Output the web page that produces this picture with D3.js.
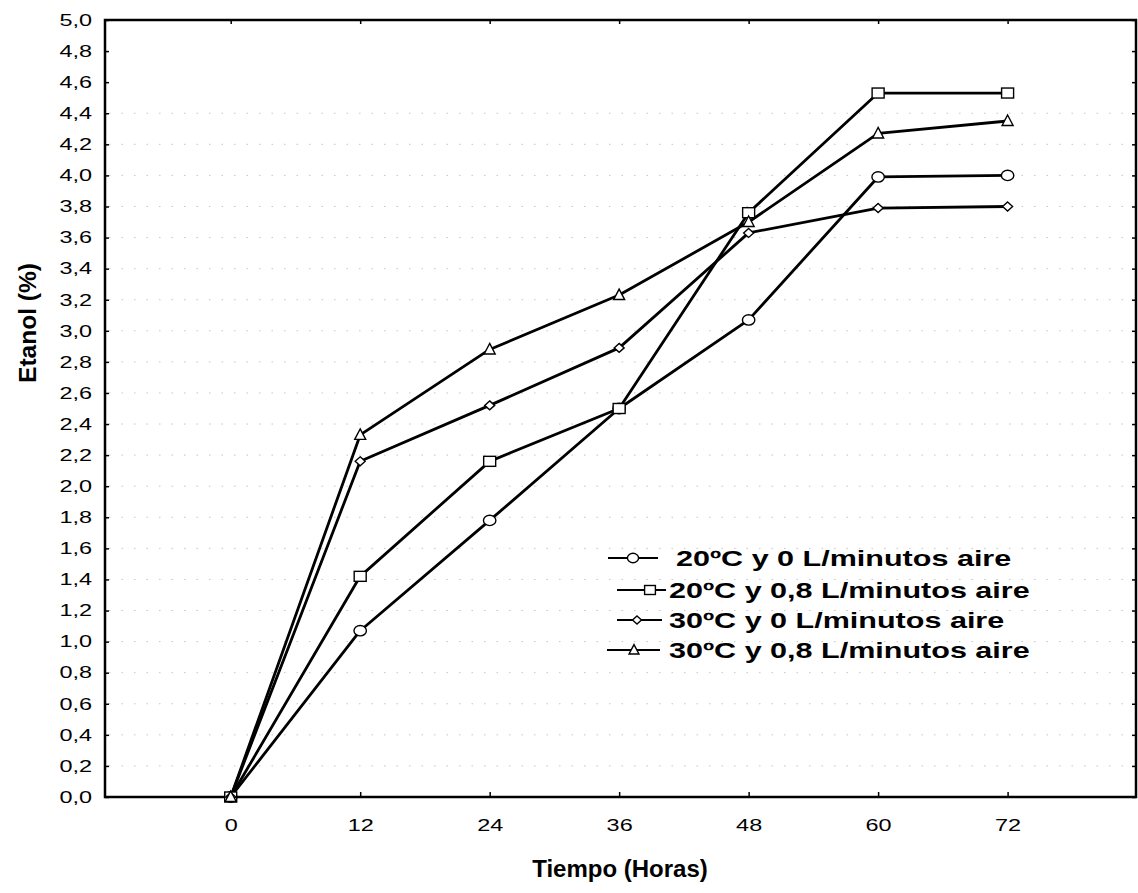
<!DOCTYPE html>
<html><head><meta charset="utf-8">
<script src="https://cdn.jsdelivr.net/npm/d3@7"></script>
<style>
body{margin:0;background:#fff;}
text{font-family:"Liberation Sans",Arial,sans-serif;fill:#000;}
</style></head>
<body>
<svg id="chart" width="1138" height="893"></svg>
<script>
// ---- data ----
const hours = [0, 12, 24, 36, 48, 60, 72];
const s20_0  = [0, 1.07, 1.78, 2.50, 3.07, 3.99, 4.00];
const s20_08 = [0, 1.42, 2.16, 2.50, 3.76, 4.53, 4.53];
const s30_0  = [0, 2.16, 2.52, 2.89, 3.63, 3.79, 3.80];
const s30_08 = [0, 2.33, 2.88, 3.23, 3.70, 4.27, 4.35];
const seriesNames = ["20ºC y 0 L/minutos aire", "20ºC y 0,8 L/minutos aire",
                     "30ºC y 0 L/minutos aire", "30ºC y 0,8 L/minutos aire"];
const seriesMarkers = ["circle", "square", "diamond", "triangle"];
const yTickValues = d3.range(0, 26).map(i => i / 5);
const gridValues = d3.range(1, 23).map(i => i / 5);
const xTitle = "Tiempo (Horas)";
const yTitle = "Etanol (%)";

const seriesValues = [s20_0, s20_08, s30_0, s30_08];
const series = seriesNames.map((n, i) => ({
  name: n, marker: seriesMarkers[i],
  pts: hours.map((h, j) => ({x: h, y: seriesValues[i][j]}))
}));

// ---- layout ----
const svg = d3.select("#chart");
const L = 105, R = 1136, T = 20, B = 797;
const x = d3.scaleLinear().domain([-11.65, 83.9]).range([L, R]);
const y = d3.scaleLinear().domain([0, 5]).range([B, T]);
const loc = d3.formatLocale({decimal: ",", thousands: ".", grouping: [3], currency: ["", ""]});
const fmt = loc.format(".1f");
const stretch = 1.42;

function stretchText(sel, k) {
  sel.each(function() {
    const w = this.getComputedTextLength();
    d3.select(this).attr("textLength", w * k).attr("lengthAdjust", "spacingAndGlyphs");
  });
}

// gridlines (faint dotted)
svg.append("g").selectAll("line").data(gridValues).join("line")
  .attr("x1", L + 4).attr("x2", R - 4)
  .attr("y1", d => y(d)).attr("y2", d => y(d))
  .attr("stroke", "#999").attr("stroke-width", 1)
  .attr("stroke-dasharray", "1.5,11").attr("opacity", 0.55);

// axes
const gy = svg.append("g").attr("transform", `translate(${L},0)`)
  .call(d3.axisLeft(y).tickValues(yTickValues).tickFormat(fmt).tickSizeInner(-4).tickSizeOuter(0).tickPadding(13));
const gx = svg.append("g").attr("transform", `translate(0,${B})`)
  .call(d3.axisBottom(x).tickValues(hours).tickFormat(d3.format("d")).tickSizeInner(-5).tickSizeOuter(0).tickPadding(22));
const gt = svg.append("g").attr("transform", `translate(0,${T})`)
  .call(d3.axisTop(x).tickValues(hours).tickFormat("").tickSizeInner(-4).tickSizeOuter(0));
const gr = svg.append("g").attr("transform", `translate(${R},0)`)
  .call(d3.axisRight(y).tickValues(yTickValues).tickFormat("").tickSizeInner(-4).tickSizeOuter(0));
[gy, gx, gt, gr].forEach(g => {
  g.select(".domain").remove();
  g.selectAll(".tick line").attr("stroke", "#000").attr("stroke-width", 1.5);
  g.selectAll("text").attr("font-size", 16.5).attr("fill", "#000")
    .style("font-family", '"Liberation Sans",Arial,sans-serif');
});
stretchText(gy.selectAll("text"), stretch);
stretchText(gx.selectAll("text"), stretch);

// frame
svg.append("rect").attr("x", L).attr("y", T).attr("width", R - L).attr("height", B - T)
  .attr("fill", "none").attr("stroke", "#000").attr("stroke-width", 2.5);

// markers
function drawMarker(g, type, cx, cy, s) {
  s = s || 1;
  const st = {fill: "#fff", stroke: "#000", "stroke-width": 1.4};
  let el;
  if (type === "circle") {
    el = g.append("ellipse").attr("cx", cx).attr("cy", cy).attr("rx", 6.2 * s).attr("ry", 5.2 * s);
  } else if (type === "square") {
    el = g.append("rect").attr("x", cx - 6 * s).attr("y", cy - 5 * s).attr("width", 12 * s).attr("height", 10 * s);
  } else if (type === "diamond") {
    el = g.append("path").attr("d", `M${cx},${cy - 4.5 * s}L${cx + 5 * s},${cy}L${cx},${cy + 4.5 * s}L${cx - 5 * s},${cy}Z`);
  } else {
    el = g.append("path").attr("d", `M${cx},${cy - 6 * s}L${cx + 5.5 * s},${cy + 4.5 * s}L${cx - 5.5 * s},${cy + 4.5 * s}Z`);
  }
  Object.entries(st).forEach(([k, v]) => el.attr(k, v));
}

const line = d3.line().x(d => x(d.x)).y(d => y(d.y));
const gl = svg.append("g");
series.forEach(s => {
  gl.append("path").datum(s.pts).attr("d", line)
    .attr("fill", "none").attr("stroke", "#000").attr("stroke-width", 2.8).attr("stroke-linejoin", "round");
});
const gm = svg.append("g");
series.forEach(s => {
  s.pts.forEach(p => drawMarker(gm, s.marker, x(p.x), y(p.y)));
});

// legend
const legendLayout = [
  {y: 558, x1: 608, x2: 658, mx: 633, tx: 676},
  {y: 590, x1: 617, x2: 666, mx: 650, tx: 669},
  {y: 620, x1: 617, x2: 662, mx: 637, tx: 669},
  {y: 650, x1: 607, x2: 660, mx: 634, tx: 669}
];
const lg = svg.append("g");
series.forEach((s, i) => {
  const l = legendLayout[i];
  lg.append("line").attr("x1", l.x1).attr("x2", l.x2).attr("y1", l.y).attr("y2", l.y)
    .attr("stroke", "#000").attr("stroke-width", 2);
  drawMarker(lg, s.marker, l.mx, l.y, 0.9);
  const t = lg.append("text").attr("x", l.tx).attr("y", l.y + 7.5)
    .attr("font-size", 21.5).attr("font-weight", "bold").text(s.name);
  stretchText(t, 1.42);
});

// titles
svg.append("text").attr("transform", "translate(36,323) rotate(-90)")
  .attr("text-anchor", "middle").attr("font-size", 24.5).attr("font-weight", "bold").text(yTitle);
svg.append("text").attr("x", 620).attr("y", 877)
  .attr("text-anchor", "middle").attr("font-size", 24).attr("font-weight", "bold").text(xTitle);
</script>
</body></html>
